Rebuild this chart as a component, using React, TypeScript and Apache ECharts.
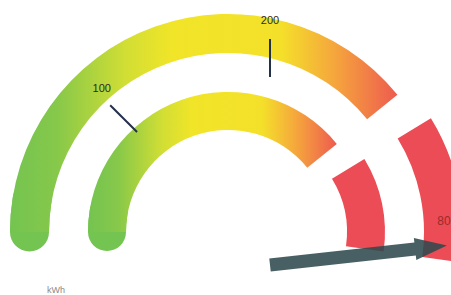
import React, { useEffect, useRef } from 'react';
import * as echarts from 'echarts';

// Ring scale 0-100 (180° -> -8°): gradient band, gap, red band
const bandEdges = [0, 75, 79, 100];
// Axis ticks shown on the scale
const tickValues = [100, 200];
// Pointer value on a 0-400 scale
const pointerValues = [386];
const readoutLabels = ['80'];
const unitLabels = ['kWh'];

const GREEN = '#74c451';
const RED = '#ec4c55';
const CLEAR = 'rgba(0,0,0,0)';

const gradient = () =>
  new echarts.graphic.LinearGradient(0, 0, 1, 0, [
    { offset: 0, color: GREEN },
    { offset: 0.12, color: '#86c84a' },
    { offset: 0.3, color: '#d2de34' },
    { offset: 0.42, color: '#f1e528' },
    { offset: 0.7, color: '#f4e02a' },
    { offset: 0.84, color: '#f5a53d' },
    { offset: 1, color: '#ee5b4f' },
  ]);

const hidden = {
  splitLine: { show: false },
  axisTick: { show: false },
  axisLabel: { show: false },
  pointer: { show: false },
  anchor: { show: false },
  title: { show: false },
  detail: { show: false },
  data: [] as any[],
};

function ring(center: number[], radius: number, width: number, color: any[], roundCap = false) {
  return {
    type: 'gauge',
    center,
    radius,
    startAngle: 180,
    endAngle: -8,
    min: 0,
    max: 100,
    splitNumber: 1,
    axisLine: { show: true, roundCap, lineStyle: { width, color } },
    ...hidden,
  };
}

export default function App() {
  const ref = useRef<HTMLDivElement>(null);
  useEffect(() => {
    if (!ref.current) return;
    const chart = echarts.init(ref.current, null, { renderer: 'svg' });
    const total = bandEdges[3] - bandEdges[0];
    const gradEnd = (bandEdges[1] - bandEdges[0]) / total;
    const redStart = (bandEdges[2] - bandEdges[0]) / total;
    const capEnd = 0.05;
    const C1 = [228, 232];
    const C2 = [245, 232];
    const C3 = [270, 265];
    chart.setOption({
      animation: false,
      backgroundColor: '#fff',
      title: {
        text: unitLabels[0],
        left: 42,
        top: 280,
        textStyle: { fontSize: 9, lineHeight: 10, color: '#8a8a8a', fontWeight: 'normal' },
      },
      series: [
        ring(C1, 218, 39, [[capEnd, GREEN], [1, CLEAR]], true),
        ring(C1, 140, 38, [[capEnd, GREEN], [1, CLEAR]], true),
        ring(C1, 218, 39, [[gradEnd, gradient()], [1, CLEAR]]),
        ring(C1, 140, 38, [[gradEnd, gradient()], [1, CLEAR]]),
        ring(C2, 218, 39, [[redStart, CLEAR], [1, RED]]),
        ring(C2, 140, 38, [[redStart, CLEAR], [1, RED]]),
        {
          type: 'gauge',
          center: C3,
          radius: 236,
          startAngle: 135,
          endAngle: 90,
          min: tickValues[0],
          max: tickValues[tickValues.length - 1],
          splitNumber: tickValues.length - 1,
          axisLine: { show: false, lineStyle: { width: 0 } },
          splitLine: { show: true, length: 38, lineStyle: { color: '#23304a', width: 2 } },
          axisTick: { show: false },
          axisLabel: {
            show: true,
            distance: -63,
            color: '#2a2a2a',
            fontSize: 11,
            align: 'center',
            verticalAlign: 'middle',
          },
          pointer: { show: false },
          anchor: { show: false },
          title: { show: false },
          detail: { show: false },
          data: [],
        },
        {
          type: 'gauge',
          center: C3,
          radius: 178,
          startAngle: 180,
          endAngle: 0,
          min: 0,
          max: 400,
          axisLine: { show: false, lineStyle: { width: 0 } },
          splitLine: { show: false },
          axisTick: { show: false },
          axisLabel: { show: false },
          anchor: { show: false },
          title: { show: false },
          pointer: {
            show: true,
            icon: 'path://M10,0 L20,18 L16,18 L16,100 L4,100 L4,18 L0,18 Z',
            length: '100%',
            width: 22,
            keepAspect: false,
            itemStyle: { color: '#2f4a4f', opacity: 0.88 },
          },
          detail: {
            show: true,
            offsetCenter: [174, -44],
            formatter: () => readoutLabels[0],
            color: '#9b2b2b',
            fontSize: 12,
            fontWeight: 'normal',
          },
          data: [{ value: pointerValues[0] }],
        },
      ],
    });
    return () => chart.dispose();
  }, []);
  return <div ref={ref} style={{ position: 'fixed', left: 0, top: 0, width: 451, height: 295 }} />;
}
